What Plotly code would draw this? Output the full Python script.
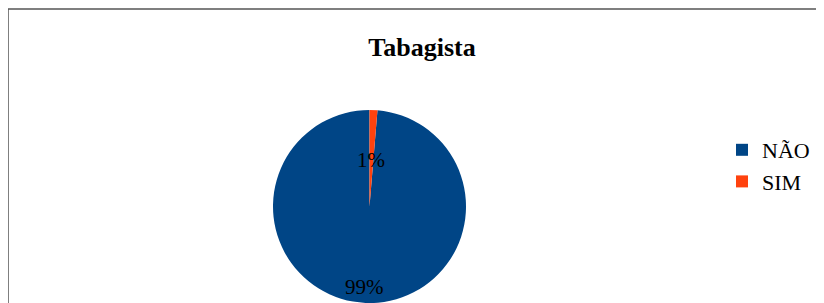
import plotly.graph_objects as go

labels = ["NÃO", "SIM"]
values = [75, 1]
colors = ["#004586", "#ff420e"]
title_text = "Tabagista"

# the page body adds an 8px margin; lay out in reference pixels and shift
OFF = 8
W, H = 824 - OFF, 303 - OFF


def px(x):
    return (x - OFF) / W


def py(y):
    return 1 - (y - OFF) / H


total = sum(values)
pct = [f"{round(v / total * 100)}%" for v in values]
# start NÃO just after SIM so that SIM sits right of 12 o'clock
start = values[1] / total * 360

fig = go.Figure(go.Pie(
    labels=labels,
    values=values,
    marker=dict(colors=colors, line=dict(width=0)),
    sort=False,
    direction="clockwise",
    rotation=start,
    textinfo="none",
    hoverinfo="label+percent",
    domain=dict(x=[px(273), px(466)], y=[py(303), py(110)]),
))

# percentage labels
label_pos = [(px(364), py(287)), (px(371), py(160))]
for (x, y), t in zip(label_pos, pct):
    fig.add_annotation(x=x, y=y, xref="paper", yref="paper", text=t, showarrow=False,
                       font=dict(family="Liberation Serif, Times New Roman, serif", size=21, color="#000000"),
                       xanchor="center", yanchor="middle")

# chart border
fig.add_shape(type="line", xref="paper", yref="paper", x0=px(8), x1=1.0, y0=py(9), y1=py(9),
              line=dict(color="#7f7f7f", width=2))
fig.add_shape(type="line", xref="paper", yref="paper", x0=px(8), x1=px(8), y0=0, y1=py(9),
              line=dict(color="#555555", width=1.5))

fig.update_layout(
    width=W, height=H,
    margin=dict(l=0, r=0, t=0, b=0),
    paper_bgcolor="#ffffff",
    plot_bgcolor="#ffffff",
    title=dict(text="<b>" + title_text + "</b>", x=px(422), xanchor="center", y=py(47), yanchor="middle",
               font=dict(family="Liberation Serif, Times New Roman, serif", size=26, color="#000000")),
    legend=dict(x=px(722), xanchor="left", y=py(129), yanchor="top",
                font=dict(family="Liberation Serif, Times New Roman, serif", size=22, color="#000000"),
                bgcolor="rgba(0,0,0,0)"),
    showlegend=True,
)

fig.write_html("out.html")
